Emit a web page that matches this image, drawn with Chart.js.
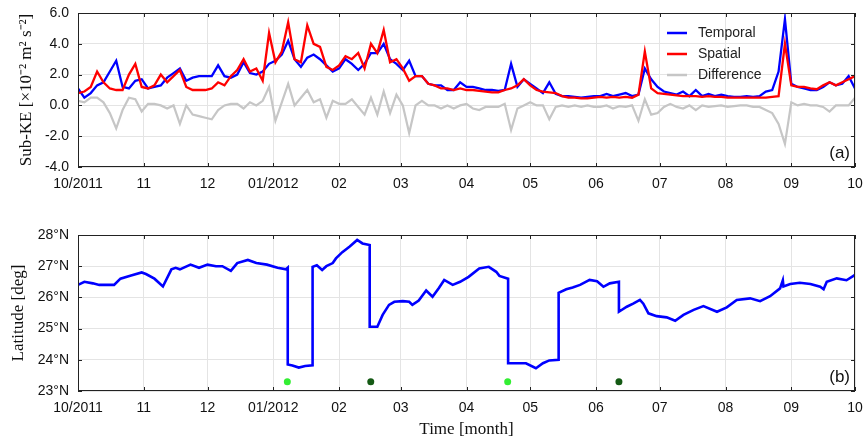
<!DOCTYPE html>
<html>
<head>
<meta charset="utf-8">
<script src="https://cdn.jsdelivr.net/npm/chart.js@4.4.1/dist/chart.umd.min.js"></script>
<style>
  html, body { margin: 0; padding: 0; background: #fff; }
  #wrap { position: relative; width: 863px; height: 441px; }
  #keBox { position: absolute; left: 0; top: 0; width: 863px; height: 200px; }
  #latBox { position: absolute; left: 0; top: 200px; width: 863px; height: 241px; }
</style>
</head>
<body>
<div id="wrap">
  <div id="keBox"><canvas id="keChart"></canvas></div>
  <div id="latBox"><canvas id="latChart"></canvas></div>
</div>
<script>
// month ticks, counted in days from 1 Oct 2011
const monthDays = [0, 31, 61, 92, 123, 152, 183, 213, 244, 274, 305, 336, 366];
const monthLabels = ["10/2011", "11", "12", "01/2012", "02", "03", "04", "05", "06", "07", "08", "09", "10"];

// panel (a): sub-KE, x10^-2 m^2 s^-2
const keDays = [
    0, 3, 6, 9, 12, 15, 18, 21, 24, 27,
    30, 33, 36, 39, 42, 45, 48, 51, 54, 57,
    60, 63, 66, 69, 72, 75, 78, 81, 84, 87,
    90, 93, 96, 99, 102, 105, 108, 111, 114, 117,
    120, 123, 126, 129, 132, 135, 138, 141, 144, 147,
    150, 153, 156, 159, 162, 165, 168, 171, 174, 177,
    180, 183, 186, 189, 192, 195, 198, 201, 204, 207,
    210, 213, 216, 219, 222, 225, 228, 231, 234, 237,
    240, 243, 246, 249, 252, 255, 258, 261, 264, 267,
    270, 273, 276, 279, 282, 285, 288, 291, 294, 297,
    300, 303, 306, 309, 312, 315, 318, 321, 324, 327,
    330, 333, 336, 339, 342, 345, 348, 351, 354, 357,
    360, 363, 366
];
const temporal = [
    1.1, 0.5, 0.8, 1.3, 1.5, 2.2, 2.9, 1.2, 1.1, 1.6,
    1.7, 1.1, 1.2, 1.3, 1.8, 2.1, 2.4, 1.6, 1.8, 1.9,
    1.9, 1.9, 2.6, 1.9, 1.8, 2.0, 2.8, 2.1, 2.0, 2.2,
    2.7, 2.9, 3.3, 4.2, 3.0, 2.5, 3.1, 3.3, 3.0, 2.6,
    2.2, 2.4, 3.0, 2.7, 2.3, 2.7, 3.4, 3.4, 4.0, 3.0,
    2.7, 2.3, 2.9, 1.9, 1.9, 1.4, 1.3, 1.3, 1.0, 1.0,
    1.5, 1.2, 1.2, 1.1, 1.0, 1.0, 0.95, 1.0, 2.7, 1.2,
    1.7, 1.4, 1.1, 0.8, 1.5, 0.75, 0.6, 0.6, 0.55, 0.5,
    0.55, 0.6, 0.6, 0.75, 0.6, 0.7, 0.8, 0.6, 0.7, 2.4,
    1.7, 1.2, 0.9, 0.8, 0.7, 0.9, 0.6, 1.0, 0.6, 0.75,
    0.6, 0.7, 0.6, 0.55, 0.55, 0.6, 0.55, 0.6, 0.9, 1.0,
    2.2, 5.6, 1.4, 1.2, 1.1, 1.0, 1.0, 1.2, 1.5, 1.3,
    1.4, 1.9, 1.1
];
const spatial = [
    0.8, 0.9, 1.2, 2.2, 1.5, 1.1, 1.0, 1.0, 2.0, 2.7,
    1.2, 1.1, 1.3, 2.0, 1.5, 1.9, 2.3, 1.2, 1.0, 1.0,
    1.0, 1.1, 1.5, 1.3, 1.9, 2.3, 3.0, 2.2, 2.4, 1.6,
    4.7, 2.8, 3.5, 5.4, 3.0, 2.8, 5.2, 4.0, 3.8, 2.5,
    2.3, 2.6, 3.2, 3.0, 3.4, 2.4, 4.0, 3.4, 4.9, 2.8,
    3.0, 2.4, 1.6, 1.9, 1.9, 1.4, 1.3, 1.1, 1.1, 1.0,
    1.1, 1.0, 1.0, 0.95, 0.9, 0.85, 0.85, 1.0, 1.1, 1.3,
    1.7, 1.3, 1.0, 0.9, 0.85, 0.8, 0.6, 0.5, 0.5, 0.45,
    0.45, 0.5, 0.55, 0.5, 0.55, 0.5, 0.55, 0.5, 0.7, 3.5,
    1.1, 0.8, 0.75, 0.7, 0.65, 0.6, 0.6, 0.6, 0.55, 0.6,
    0.55, 0.55, 0.5, 0.5, 0.5, 0.5, 0.5, 0.5, 0.5, 0.55,
    0.6, 4.0, 1.3, 1.2, 1.2, 1.1, 1.05, 1.3, 1.5, 1.3,
    1.5, 1.7, 1.9
];
const difference = [
    0.3, 0.2, 0.5, 0.5, 0.2, -0.5, -1.5, -0.3, 0.5, 0.4,
    -0.4, 0.1, 0.1, 0.0, -0.2, 0.0, -1.2, 0.0, -0.6, -0.7,
    -0.8, -0.9, -0.3, 0.0, 0.1, 0.1, -0.2, 0.2, 0.0, 0.3,
    1.2, -1.0, 0.2, 1.4, 0.0, 0.5, 1.0, 0.2, 0.4, -0.8,
    0.3, 0.1, 0.1, 0.4, -0.1, -0.6, 0.5, -0.6, 0.9, -0.5,
    0.7, 0.0, -1.8, 0.0, 0.3, 0.0, 0.0, -0.2, 0.0, -0.2,
    0.0, 0.1, -0.2, -0.3, -0.1, -0.1, -0.1, 0.1, -1.6, -0.2,
    0.0, 0.2, 0.0, 0.0, -0.9, -0.1, 0.0, -0.1, 0.0, -0.1,
    0.0, -0.1, -0.1, 0.0, -0.2, -0.05, -0.1, 0.0, -1.0, 0.4,
    -0.6, -0.5, -0.1, 0.1, -0.1, -0.2, 0.0, -0.3, 0.0, -0.1,
    -0.05, 0.0, -0.1, -0.05, 0.0, 0.0, -0.1, -0.1, -0.3, -0.5,
    -1.2, -2.5, 0.2, 0.0, 0.1, 0.0, 0.0, -0.1, -0.4, 0.0,
    0.0, 0.0, 0.5
];

// panel (b): latitude of the track (jumps have two entries on the same day)
const latDays = [
    0, 3, 7, 10, 15, 17, 20, 25, 30, 32, 36, 40, 44, 46, 48, 53, 57, 61, 65, 68,
    72, 75, 80, 84, 89, 94, 98, 98.8, 98.8, 101, 104, 107, 110.5, 110.5, 112.5, 115, 117, 120, 121.5, 124.5,
    128, 131.5, 134, 137.4, 137.4, 141, 143.5, 146.5, 149, 153, 156, 157.5, 160.5, 164, 167, 170, 172.5, 176.5, 180, 184,
    189, 193.5, 197, 198.5, 202.6, 202.6, 205, 211, 215.7, 219, 222, 226.4, 226.4, 230, 233, 236.5, 241, 244.5, 247.5, 250.5,
    254.8, 254.8, 258.5, 261.5, 264.7, 266.3, 268.7, 272.6, 277.3, 281.3, 285.2, 290, 294.6, 301, 305.6, 310.3, 316.6, 321.3, 326, 330.7,
    332, 332.3, 335.5, 340, 345, 349.6, 351.2, 352.7, 357.4, 362, 366
];
const latitude = [
    26.4, 26.5, 26.45, 26.4, 26.4, 26.4, 26.6, 26.7, 26.8, 26.75, 26.6, 26.35, 26.9, 26.95, 26.9, 27.05, 26.95, 27.05, 27.0, 27.0,
    26.85, 27.1, 27.2, 27.1, 27.05, 26.95, 26.9, 26.95, 23.85, 23.82, 23.75, 23.8, 23.82, 26.98, 27.03, 26.88, 27.0, 27.1, 27.25, 27.45,
    27.63, 27.84, 27.73, 27.68, 25.06, 25.06, 25.44, 25.76, 25.86, 25.88, 25.86, 25.76, 25.9, 26.22, 26.02, 26.3, 26.56, 26.4, 26.5, 26.66,
    26.93, 26.98, 26.82, 26.69, 26.6, 23.89, 23.89, 23.89, 23.73, 23.89, 23.98, 24.0, 26.15, 26.26, 26.32, 26.4, 26.56, 26.52, 26.34, 26.45,
    26.5, 25.54, 25.7, 25.8, 25.92, 25.8, 25.49, 25.4, 25.36, 25.25, 25.44, 25.6, 25.72, 25.54, 25.68, 25.92, 25.97, 25.88, 26.04, 26.29,
    26.55, 26.35, 26.43, 26.47, 26.43, 26.34, 26.26, 26.5, 26.61, 26.55, 26.72
];
// event markers under the track
const southDays = [98.6, 202.4];
const northDays = [137.9, 254.8];
const markerLat = 23.3;

const sans = "'Liberation Sans', Arial, sans-serif";
const serif = "'Liberation Serif', 'Times New Roman', serif";

function toPoints(xs, ys) {
    return xs.map((x, i) => ({ x: x, y: ys[i] }));
}

// black box with small inward ticks, plus the panel tag
const framePlugin = {
    id: "frame",
    afterDraw(chart, args, opts) {
        const { ctx, chartArea: a, scales } = chart;
        ctx.save();
        ctx.strokeStyle = "#222";
        ctx.lineWidth = 1;
        ctx.beginPath();
        scales.x.ticks.forEach((t) => {
            const px = Math.round(scales.x.getPixelForValue(t.value)) + 0.5;
            ctx.moveTo(px, a.top);
            ctx.lineTo(px, a.top + 4);
            ctx.moveTo(px, a.bottom);
            ctx.lineTo(px, a.bottom - 4);
        });
        scales.y.ticks.forEach((t) => {
            const py = Math.round(scales.y.getPixelForValue(t.value)) + 0.5;
            ctx.moveTo(a.right, py);
            ctx.lineTo(a.right - 4, py);
            ctx.moveTo(a.left, py);
            ctx.lineTo(a.left + 4, py);
        });
        ctx.stroke();
        ctx.strokeRect(Math.round(a.left) + 0.5, Math.round(a.top) + 0.5, Math.round(a.width) - 1, Math.round(a.height) - 1);
        if (opts.tag) {
            ctx.font = "17px " + sans;
            ctx.fillStyle = "#111";
            ctx.textAlign = "right";
            ctx.textBaseline = "middle";
            ctx.fillText(opts.tag, a.right - 5, a.bottom - 14);
        }
        ctx.restore();
    },
};

// legend drawn inside the plot, upper right
const keyPlugin = {
    id: "key",
    afterDraw(chart, args, opts) {
        if (!opts.show) return;
        const ctx = chart.ctx;
        ctx.save();
        ctx.font = "14px " + sans;
        ctx.textBaseline = "middle";
        ctx.textAlign = "left";
        chart.data.datasets.forEach((ds, i) => {
            const y = opts.y + i * opts.gap;
            ctx.strokeStyle = ds.borderColor;
            ctx.lineWidth = 2.5;
            ctx.beginPath();
            ctx.moveTo(opts.x, y);
            ctx.lineTo(opts.x + 20, y);
            ctx.stroke();
            ctx.fillStyle = "#222";
            ctx.fillText(ds.label, opts.x + 31, y);
        });
        ctx.restore();
    },
};

function monthAxis(height, title) {
    return {
        type: "linear",
        min: monthDays[0],
        max: monthDays[monthDays.length - 1],
        afterBuildTicks: (scale) => {
            scale.ticks = monthDays.map((v) => ({ value: v }));
        },
        afterFit: (scale) => {
            scale.height = height;
            scale.paddingLeft = 0;
            scale.paddingRight = 0;
        },
        ticks: {
            autoSkip: false,
            maxRotation: 0,
            padding: 9,
            color: "#111",
            font: { family: sans, size: 14 },
            callback: (v, i) => monthLabels[i],
        },
        grid: { color: "#e4e4e4", drawTicks: false },
        border: { display: false },
        title: title,
    };
}

function valueAxis(min, max, step, fmt, titleText, titlePad) {
    return {
        min: min,
        max: max,
        afterFit: (scale) => {
            scale.width = 78;
            scale.paddingTop = 0;
            scale.paddingBottom = 0;
        },
        ticks: {
            stepSize: step,
            padding: 9,
            color: "#111",
            font: { family: sans, size: 14 },
            callback: fmt,
        },
        grid: { color: "#e4e4e4", drawTicks: false },
        border: { display: false },
        title: {
            display: true,
            text: titleText,
            color: "#111",
            font: { family: serif, size: 17 },
            padding: { top: titlePad, bottom: 0 },
        },
    };
}

document.addEventListener("DOMContentLoaded", function () {
    // Panel (a)
    new Chart(document.getElementById("keChart").getContext("2d"), {
        type: "line",
        data: {
            datasets: [
                {
                    label: "Temporal",
                    data: toPoints(keDays, temporal),
                    borderColor: "#0000ff",
                    borderWidth: 2.3,
                    pointRadius: 0,
                    order: 1,
                },
                {
                    label: "Spatial",
                    data: toPoints(keDays, spatial),
                    borderColor: "#ff0000",
                    borderWidth: 2.3,
                    pointRadius: 0,
                    order: 0,
                },
                {
                    label: "Difference",
                    data: toPoints(keDays, difference),
                    borderColor: "#c6c6c6",
                    borderWidth: 2.2,
                    pointRadius: 0,
                    order: 2,
                },
            ],
        },
        options: {
            responsive: true,
            maintainAspectRatio: false,
            animation: false,
            layout: { padding: { top: 13, right: 8, left: 0, bottom: 0 } },
            plugins: {
                legend: { display: false },
                tooltip: { enabled: false },
                frame: { tag: "(a)" },
                key: { show: true, x: 667, y: 33, gap: 21 },
            },
            scales: {
                x: monthAxis(33, { display: false }),
                y: valueAxis(-4, 6, 2, (v) => v.toFixed(1), "Sub-KE [×10⁻² m² s⁻²]", 16),
            },
        },
        plugins: [framePlugin, keyPlugin],
    });

    // Panel (b)
    new Chart(document.getElementById("latChart").getContext("2d"), {
        type: "line",
        data: {
            datasets: [
                {
                    label: "Latitude",
                    data: toPoints(latDays, latitude),
                    borderColor: "#0000ff",
                    borderWidth: 2.6,
                    pointRadius: 0,
                },
                {
                    label: "south jump",
                    data: southDays.map((d) => ({ x: d, y: markerLat })),
                    showLine: false,
                    pointRadius: 3.5,
                    pointBorderWidth: 0,
                    pointBackgroundColor: "#33ee33",
                },
                {
                    label: "north jump",
                    data: northDays.map((d) => ({ x: d, y: markerLat })),
                    showLine: false,
                    pointRadius: 3.5,
                    pointBorderWidth: 0,
                    pointBackgroundColor: "#145a14",
                },
            ],
        },
        options: {
            responsive: true,
            maintainAspectRatio: false,
            animation: false,
            layout: { padding: { top: 35, right: 8, left: 0, bottom: 0 } },
            plugins: {
                legend: { display: false },
                tooltip: { enabled: false },
                frame: { tag: "(b)" },
                key: { show: false },
            },
            scales: {
                x: monthAxis(50, {
                    display: true,
                    text: "Time [month]",
                    color: "#111",
                    font: { family: serif, size: 17 },
                    padding: { top: 0, bottom: 1 },
                }),
                y: valueAxis(23, 28, 1, (v) => v + "°N", "Latitude [deg]", 8),
            },
        },
        plugins: [framePlugin, keyPlugin],
    });
});
</script>
</body>
</html>
